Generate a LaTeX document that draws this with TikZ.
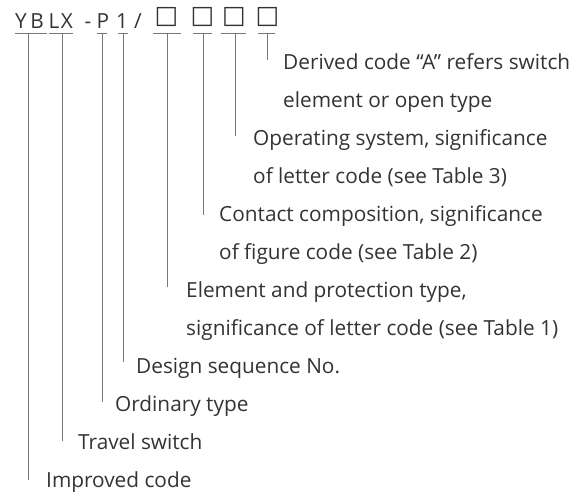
\documentclass[tikz,border=0pt]{standalone}
\usepackage{fontspec}
\setmainfont{Open Sans}
\newfontfamily\boxfont{DejaVu Sans}
\definecolor{txt}{RGB}{51,51,51}
\definecolor{ln}{RGB}{120,120,120}
\begin{document}
\begin{tikzpicture}[x=1pt,y=-1pt,
  lab/.style={anchor=base west,inner sep=0pt,text=txt,font=\fontsize{20.8}{24}\selectfont},
  code/.style={anchor=base,inner sep=0pt,text=txt,font=\fontsize{20.8}{24}\selectfont},
  sq/.style={anchor=center,inner sep=0pt,text=txt,font=\boxfont\fontsize{25}{30}\selectfont},
  conn/.style={draw=ln,line width=0.9pt}]
\useasboundingbox (0,0) rectangle (571,493);
% code characters
\node[code] (cY) at (21,28) {Y};
\node[code] (cB) at (37,28) {B};
\node[code] (cL) at (54,28) {L};
\node[code] (cX) at (67,28) {X};
\node[code] (cD) at (88,28) {-};
\node[code] (cP) at (103,28) {P};
\node[code] (c1) at (122,28) {1};
\node[code] (cS) at (138,28) {/};
\node[sq] (q1) at (166.5,17.5) {□};
\node[sq] (q2) at (202.5,17.5) {□};
\node[sq] (q3) at (234,17.5) {□};
\node[sq] (q4) at (267.5,17.5) {□};
% labels
\node[lab] (l8a) at (283,69) {Derived code “A” refers switch};
\node[lab] (l8b) at (283,107) {element or open type};
\node[lab] (l7a) at (253,145) {Operating system, significance};
\node[lab] (l7b) at (253,183) {of letter code (see Table 3)};
\node[lab] (l6a) at (219,221) {Contact composition, significance};
\node[lab] (l6b) at (219,259) {of figure code (see Table 2)};
\node[lab] (l5a) at (186,297) {Element and protection type,};
\node[lab] (l5b) at (186,335) {significance of letter code (see Table 1)};
\node[lab] (l4) at (136,373) {Design sequence No.};
\node[lab] (l3) at (115,411) {Ordinary type};
\node[lab] (l2) at (78,449) {Travel switch};
\node[lab] (l1) at (46,487) {Improved code};
% bars and stems
\coordinate (b1l) at (15,33); \coordinate (b1r) at (47,33); \coordinate (t1) at (28,33); \coordinate (e1) at (28,480);
\coordinate (b2l) at (49,33); \coordinate (b2r) at (73,33); \coordinate (t2) at (62,33); \coordinate (e2) at (62,441);
\coordinate (b3l) at (97,33); \coordinate (b3r) at (107,33); \coordinate (t3) at (102,33); \coordinate (e3) at (102,402);
\coordinate (b4l) at (118,33); \coordinate (b4r) at (128,33); \coordinate (t4) at (123,33); \coordinate (e4) at (123,362);
\coordinate (b5l) at (153,33); \coordinate (b5r) at (181,33); \coordinate (t5) at (167,33); \coordinate (e5) at (167,287);
\coordinate (b6l) at (193,33); \coordinate (b6r) at (212,33); \coordinate (t6) at (203,33); \coordinate (e6) at (203,215);
\coordinate (b7l) at (221,33); \coordinate (b7r) at (246,33); \coordinate (t7) at (235,33); \coordinate (e7) at (235,136);
\coordinate (b8l) at (258,33); \coordinate (b8r) at (275,33); \coordinate (t8) at (267,33); \coordinate (e8) at (267,60);
\foreach \i in {1,...,8}{
  \draw[conn] (b\i l) -- (b\i r);
  \draw[conn] (t\i) -- (e\i);
}
\end{tikzpicture}
\end{document}
